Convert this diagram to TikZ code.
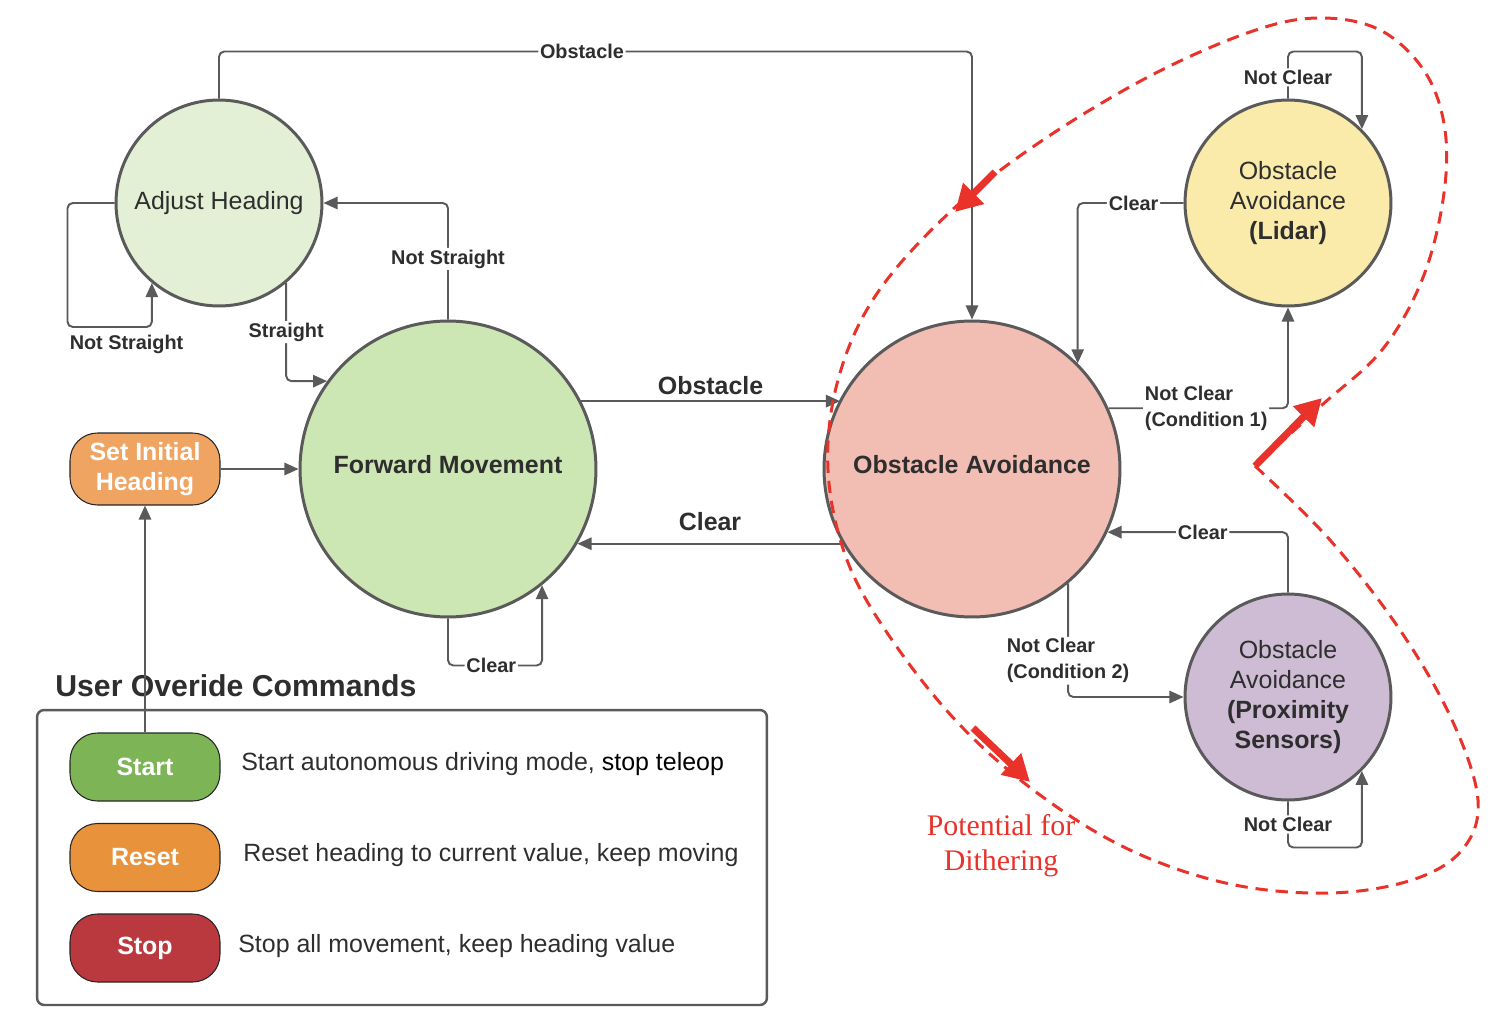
\documentclass[tikz,border=0pt]{standalone}
\usepackage{fontspec}
\setmainfont{Liberation Sans}
\newfontfamily\redserif{Liberation Serif}
\usetikzlibrary{arrows.meta,calc}
\definecolor{edgegray}{HTML}{5A5A5A}
\definecolor{textdark}{HTML}{2E2E2E}
\definecolor{ahfill}{HTML}{E3F0D5}
\definecolor{fmfill}{HTML}{CCE6B4}
\definecolor{oafill}{HTML}{F2BDB3}
\definecolor{lidfill}{HTML}{FAEBAB}
\definecolor{proxfill}{HTML}{CDBCD3}
\definecolor{sihfill}{HTML}{F0A462}
\definecolor{startfill}{HTML}{7DB456}
\definecolor{resetfill}{HTML}{E8923B}
\definecolor{stopfill}{HTML}{B9393E}
\definecolor{dithred}{HTML}{E8322A}
\newcommand\FontBig{\fontsize{14.2}{17}\selectfont}
\newcommand\FontSmall{\fontsize{11.3}{14.7}\selectfont}
\newcommand\FontTitle{\fontsize{17.2}{20}\selectfont}
\begin{document}
\begin{tikzpicture}[x=0.02cm,y=-0.02cm,
  state/.style={circle, draw=edgegray, line width=1.7pt, inner sep=0pt, text=textdark, align=center, font=\FontBig},
  bigstate/.style={state, minimum size=5.92cm},
  smallstate/.style={state, minimum size=4.12cm},
  conn/.style={draw=edgegray, line width=1.1pt, rounded corners=3pt, -{Triangle[length=8pt,width=7pt]}},
  lbl/.style={fill=white, inner sep=1pt, font=\FontSmall\bfseries, text=textdark, align=left},
  biglbl/.style={font=\FontBig\bfseries, text=textdark, inner sep=1pt},
  btn/.style={draw=black!85, line width=0.6pt, rounded corners=0.55cm, minimum width=3cm, minimum height=1.36cm, text=white, font=\FontBig\bfseries, align=center},
  desc/.style={anchor=west, font=\FontBig, text=textdark, inner sep=0pt},
  reddash/.style={draw=dithred, line width=1.7pt, dash pattern=on 7pt off 4.5pt},
  redarrow/.style={draw=dithred, line width=4pt, -{Triangle[length=15pt,width=16pt]}}
]
\useasboundingbox[fill=white] (0,0) rectangle (1502,1028);

% states
\node[smallstate, fill=ahfill] (ah) at (219,203) {Adjust Heading};
\node[bigstate, fill=fmfill] (fm) at (448,469) {\raisebox{5pt}{\bfseries Forward Movement}};
\node[bigstate, fill=oafill] (oa) at (972,469) {\raisebox{5pt}{\bfseries Obstacle Avoidance}};
\node[smallstate, fill=lidfill] (lid) at (1288,203) {Obstacle\\Avoidance\\\textbf{(Lidar)}};
\node[smallstate, fill=proxfill] (prox) at (1288,697) {Obstacle\\Avoidance\\\textbf{(Proximity}\\\textbf{Sensors)}};

% legend
\node[draw=edgegray, line width=1.4pt, rounded corners=4pt, minimum width=14.6cm, minimum height=5.9cm] (legend) at (402,857.5) {};
\node[anchor=west, font=\FontTitle\bfseries, text=textdark, inner sep=0pt] (title) at (55,686) {User Overide Commands};
\node[btn, fill=sihfill, minimum height=1.44cm] (sih) at (145,469) {Set Initial\\Heading};
\node[btn, fill=startfill] (start) at (145,767) {Start};
\node[btn, fill=resetfill] (reset) at (145,857.5) {Reset};
\node[btn, fill=stopfill] (stop) at (145,948) {Stop};
\node[desc] (dstart) at (241,764) {Start autonomous driving mode, \textcolor{black}{stop teleop}};
\node[desc] (dreset) at (243,855) {Reset heading to current value, keep moving};
\node[desc] (dstop) at (238,946) {Stop all movement, keep heading value};

% connectors
\draw[conn] (ah.north) -- ++(0,-47) -| node[lbl, pos=0.241]{Obstacle} (oa.north);
\draw[conn] (ah.west) -- ++(-47,0) -- ++(0,124) -| node[lbl, below=3pt, pos=0.35, fill=none]{Not Straight} (ah.-130.6);
\draw[conn] (ah.-50) |- node[lbl, pos=0.25]{Straight} (fm.144);
\draw[conn] (fm.north) |- node[lbl, pos=0.26]{Not Straight} (ah.east);
\draw[conn] (fm.27.8) -- node[biglbl, above=2pt]{Obstacle} (fm.27.8 -| oa.152.2);
\draw[conn] (oa.210.9) -- node[biglbl, above=6pt]{Clear} (oa.210.9 -| fm.-30.9);
\draw[conn] (fm.south) -- ++(0,47) -| node[lbl, pos=0.23]{Clear} (fm.-51.6);
\draw[conn] (sih.east) -- (fm.west);
\draw[conn] (start.north) -- (sih.south);
\draw[conn] (lid.west) -| node[lbl, pos=0.236]{Clear} (oa.45.3);
\draw[conn] (oa.24.8) -| node[lbl, pos=0.272]{Not Clear\\(Condition 1)} (lid.south);
\draw[conn] (lid.north) -- node[lbl, pos=0.45]{Not Clear} ++(0,-47) -| (lid.45.6);
\draw[conn] (prox.north) |- node[lbl, pos=0.736]{Clear} (oa.-25.6);
\draw[conn] (oa.-50.1) |- node[lbl, pos=0.34]{Not Clear\\(Condition 2)} (prox.west);
\draw[conn] (prox.south) -- node[lbl]{Not Clear} ++(0,46) -| (prox.-45.6);

% dithering region
\draw[reddash] plot[smooth, tension=0.6] coordinates {
  (1255,466) (1330,540) (1400,630) (1452,720) (1478,800) (1462,850) (1412,880)
  (1330,893) (1230,884) (1130,850) (1040,795) (960,725) (892,640) (847,560)
  (828,470) (838,380) (876,295) (950,212) (1040,142) (1150,76) (1250,32)
  (1318,18) (1380,30) (1425,72) (1445,130) (1443,200) (1422,280) (1382,350)
  (1322,405) (1255,466)};
\coordinate (ra1) at (995,172);  \coordinate (rt1) at (955,212);
\coordinate (ra2) at (973,728);  \coordinate (rt2) at (1030,782);
\coordinate (ra3) at (1255,466); \coordinate (rt3) at (1322,398);
\draw[redarrow] (ra1) -- (rt1);
\draw[redarrow] (ra2) -- (rt2);
\draw[redarrow] (ra3) -- (rt3);
\node[font=\redserif\fontsize{17}{20}\selectfont, text=dithred, align=center] (dith) at (1001,846) {Potential for\\Dithering};
\end{tikzpicture}
\end{document}
